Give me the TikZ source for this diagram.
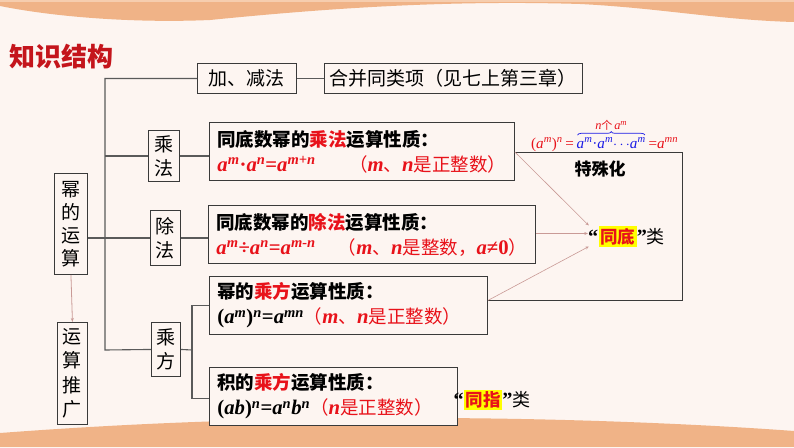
\documentclass[tikz,border=0pt]{standalone}
\usepackage{fontspec}
\setmainfont{Noto Sans CJK SC}
\newfontfamily\cjk{Noto Sans CJK SC}
\newfontfamily\tnr{Liberation Serif}[Scale=1.12]
\usetikzlibrary{arrows.meta,calc,decorations.pathreplacing}
\definecolor{bgc}{HTML}{FDF5F1}
\definecolor{orng}{HTML}{F0B387}
\definecolor{orngl}{HTML}{F6CDAE}
\definecolor{fred}{HTML}{E8121A}
\definecolor{tred}{HTML}{C4151C}
\definecolor{bdr}{HTML}{3A3A3A}
\definecolor{conn}{HTML}{5A5A5A}
\definecolor{pinkl}{HTML}{C99A96}
\definecolor{fblue}{HTML}{1A1AE6}
\definecolor{hly}{HTML}{FFFF00}
\newcommand\va[1]{{\tnr\bfseries\itshape #1}}
\newcommand\sps[1]{\textsuperscript{\tnr\bfseries\itshape #1}}
\newcommand\vb[1]{{\tnr\itshape #1}}
\newcommand\spb[1]{\textsuperscript{\tnr\itshape #1}}
\newcommand\tb[1]{{\tnr\bfseries #1}}
\begin{document}
\begin{tikzpicture}[x=1pt,y=-1pt,
 box/.style={draw=bdr, line width=0.9pt, fill=bgc, inner sep=0pt, anchor=north west},
 lbl/.style={box, font=\fontsize{19}{24}\selectfont, align=center},
 big/.style={box, font=\fontsize{18.5}{25}\selectfont, align=left, inner xsep=8pt},
 cn/.style={draw=conn, line width=1.1pt},
 pk/.style={draw=pinkl, line width=0.6pt, -{Stealth[length=3.5pt,width=3pt]}},
 hl/.style={fill=hly, inner xsep=1.5pt, inner ysep=2pt, text=fred, font=\fontsize{17.5}{17.5}\selectfont\bfseries},
 plain/.style={inner sep=0pt, font=\fontsize{18}{18}\selectfont\bfseries},
]
% background
\useasboundingbox (0,0) rectangle (794,447);
\fill[bgc] (0,0) rectangle (794,447);
\fill[orng] (0,0) -- (794,0) -- (794,22) .. controls (720,20) and (660,8) .. (580,4)
  .. controls (450,0) and (330,8) .. (210,20) .. controls (140,23) and (60,18) .. (0,6) -- cycle;
\fill[orngl] (0,0) rectangle (794,2);
\fill[orng] (0,447) -- (0,433) .. controls (120,424) and (250,418) .. (420,418)
  .. controls (560,418) and (700,424) .. (794,431) -- (794,447) -- cycle;

% title
\node[font=\fontsize{26}{26}\selectfont\bfseries, text=tred, anchor=west, inner sep=0pt] (title) at (9,57) {知识结构};

% boxes
\node[lbl, minimum width=99pt, minimum height=30pt] (jjf) at (197,63) {加、减法};
\node[lbl, minimum width=258pt, minimum height=30pt] (hb) at (324,63) {合并同类项（见七上第三章）};
\node[lbl, minimum width=31pt, minimum height=51pt] (chf) at (148,130) {乘\\法};
\node[lbl, minimum width=30pt, minimum height=55pt] (chuf) at (150,210) {除\\法};
\node[lbl, minimum width=33pt, minimum height=101pt, font=\fontsize{19}{23}\selectfont] (mi) at (54,173) {幂\\的\\运\\算};
\node[lbl, minimum width=30pt, minimum height=102pt, font=\fontsize{19}{24.5}\selectfont] (ys) at (57,322) {运\\算\\推\\广};
\node[lbl, minimum width=29pt, minimum height=54pt] (cfang) at (151,322) {乘\\方};

\node[big, text width=289pt, minimum height=58pt] (b1) at (209,122)
 {\bfseries 同底数幂的\textcolor{fred}{乘法}运算性质：\\
  \rlap{\textcolor{fred}{\va{a}\sps{m}\tb{·}\va{a}\sps{n}\tb{=}\va{a}\sps{m+n}\hspace{1.8em}\mdseries（\va{m}、\va{n}是正整数）}}};
\node[big, text width=311pt, minimum height=58pt] (b2) at (208,205)
 {\bfseries 同底数幂的\textcolor{fred}{除法}运算性质：\\
  \rlap{\textcolor{fred}{\va{a}\sps{m}\tb{÷}\va{a}\sps{n}\tb{=}\va{a}\sps{m-n}\hspace{1.2em}\mdseries（\va{m}、\va{n}是整数，\va{a}\tb{≠0}）}}};
\node[big, text width=262pt, minimum height=58pt] (b3) at (209,276)
 {\bfseries 幂的\textcolor{fred}{乘方}运算性质：\\
  \rlap{\tb{(}\va{a}\sps{m}\tb{)}\sps{n}\tb{=}\va{a}\sps{mn}\textcolor{fred}{\mdseries（\va{m}、\va{n}是正整数）}}};
\node[big, text width=232pt, minimum height=58pt] (b4) at (209,367)
 {\bfseries 积的\textcolor{fred}{乘方}运算性质：\\
  \rlap{\tb{(}\va{ab}\tb{)}\sps{n}\tb{=}\va{a}\sps{n}\va{b}\sps{n}\textcolor{fred}{\mdseries（\va{n}是正整数）}}};

% tree connectors
\coordinate (sTop) at (105,78);
\coordinate (sBot) at (105,350);
\draw[cn] (jjf.west) -| (sBot) -- (cfang.west);
\draw[cn] (jjf.east) -- (hb.west);
\draw[cn] (chf.west) -- (chf.west -| sTop);
\draw[cn] (chf.east) -- (chf.east -| b1.west);
\draw[cn] (mi.east |- chuf.west) -- (chuf.west);
\draw[cn] (chuf.east) -- (chuf.east -| b2.west);
\coordinate (sp2) at (192,350);
\draw[cn] (cfang.east) -- (sp2);
\draw[cn] (b3.west) -| (sp2) |- ($(b4.west)+(0,2)$);
\draw[draw=pinkl, line width=0.8pt, -{Stealth[length=4pt,width=3pt]}] (mi.south) -- (ys.north);

% right bracket
\coordinate (rb) at (682,152);
\draw[draw=bdr, line width=0.9pt] (b1.east |- rb) -- (rb) |- ($(b3.east)+(0,-5)$);

% top formula
\node[anchor=base west, inner sep=0pt, text=fred, font=\fontsize{13.5}{13.5}\selectfont] (f1) at (531,148)
 {\tnr(\vb{a}\spb{m})\spb{n}\,=\,};
\node[anchor=base west, inner sep=0pt, text=fblue, font=\fontsize{13.5}{13.5}\selectfont] (f2) at (f1.base east)
 {\vb{a}\spb{m}\tnr·\vb{a}\spb{m}\tnr$\cdots$\vb{a}\spb{m}};
\node[anchor=base west, inner sep=0pt, text=fred, font=\fontsize{13.5}{13.5}\selectfont] (f3) at (f2.base east)
 {\tnr\,=\vb{a}\spb{mn}};
\draw[fblue, line width=0.7pt, decorate, decoration={brace, amplitude=3.5pt}]
 ($(f2.north west)+(1,-2.5)$) -- ($(f2.north east)+(-1,-2.5)$) coordinate[midway] (bm);
\node[anchor=south, inner sep=0pt, text=fred, font=\fontsize{11}{11}\selectfont] (nge) at ($(bm)+(0,-4.5)$)
 {\vb{n}个\,\vb{a}\spb{m}};
\node[font=\fontsize{17}{17}\selectfont\bfseries, inner sep=0pt] (tsh) at (600,169) {特殊化};

% tong di
\node[hl] (td) at (617.5,236.5) {同底};
\node[plain, anchor=east] (tdq) at (td.west) {\tnr“};
\node[plain, anchor=west] (tdl) at (td.east) {\tnr”{\cjk\mdseries 类}};
\coordinate (tdi1) at ($(tdq.west)+(1,-11)$);
\coordinate (tdi2) at ($(tdq.west)+(0,-3)$);
\coordinate (tdi3) at ($(tdq.west)+(1,10)$);
\draw[pk] (b1.east |- rb) -- (tdi1);
\draw[pk] (b2.east |- tdi2) -- (tdi2);
\draw[pk] ($(b3.east)+(0,-5)$) -- (tdi3);

% tong zhi
\node[hl] (tz) at (483,400) {同指};
\node[plain, anchor=east] (tzq) at (tz.west) {\tnr“};
\node[plain, anchor=west] (tzl) at (tz.east) {\tnr”{\cjk\mdseries 类}};
\end{tikzpicture}
\end{document}
